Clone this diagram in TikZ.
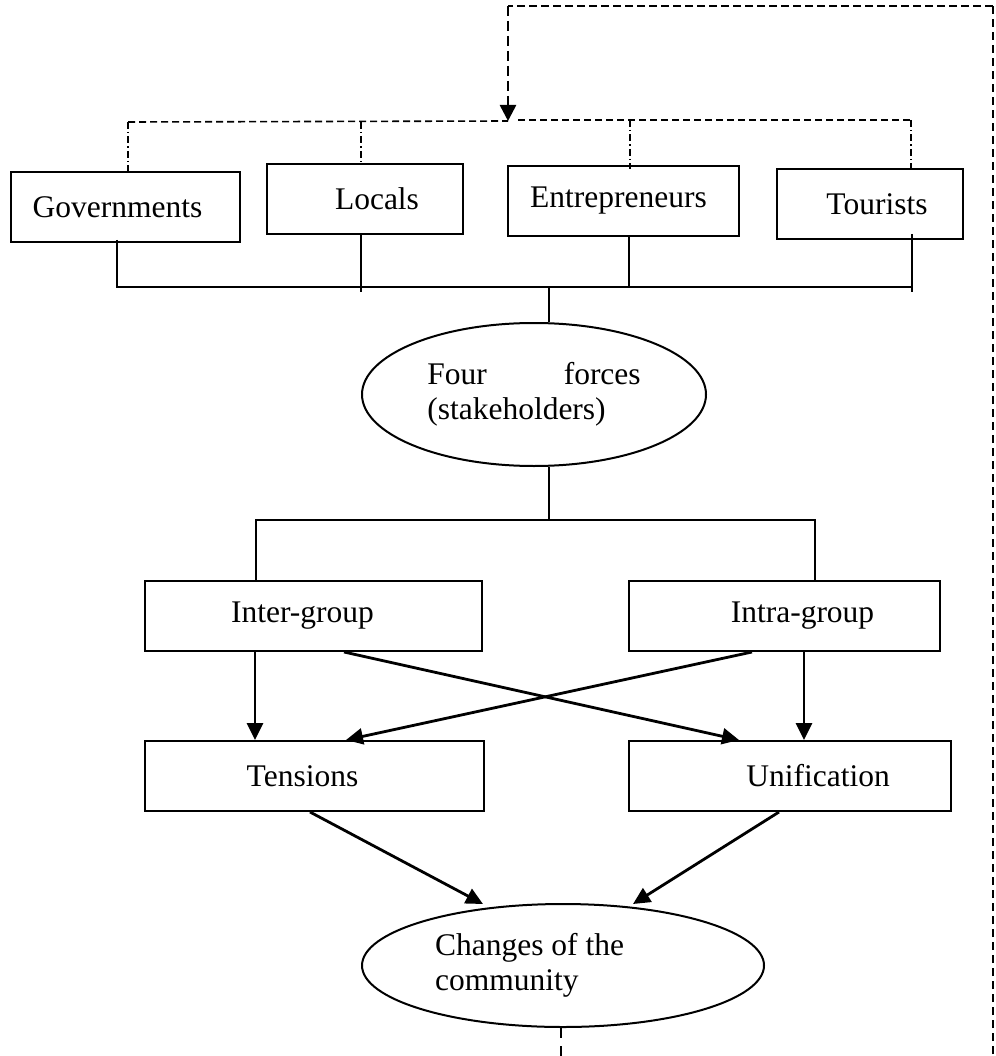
\documentclass[tikz,border=0pt]{standalone}
\usepackage{fontspec}
\setmainfont{Liberation Serif}
\usetikzlibrary{shapes.geometric,arrows.meta,calc}
\begin{document}
\begin{tikzpicture}[x=1pt,y=-1pt,
  txtfont/.style={font=\fontsize{31.5pt}{35pt}\selectfont},
  boxst/.style={draw,line width=2pt,rectangle,inner sep=0pt,minimum height=70pt,txtfont},
  ellst/.style={draw,line width=2pt,ellipse,inner sep=0pt,align=left,txtfont},
  conn/.style={line width=2pt},
  arr/.style={line width=2.8pt,-{Triangle[length=17pt,width=16pt]}},
  fbtop/.style={line width=2pt,dash pattern=on 8pt off 4pt},
  fbdown/.style={line width=2.6pt,dash pattern=on 10pt off 5pt},
  fbside/.style={line width=1.3pt,dash pattern=on 8pt off 5pt},
  fbbot/.style={line width=2pt,dash pattern=on 10pt off 8pt},
  hdash/.style={line width=1.6pt,dash pattern=on 7pt off 4pt},
  ddot/.style={line width=1.4pt,dash pattern=on 7pt off 3pt on 1.5pt off 3pt},
]
\clip (0,0) rectangle (995,1056);

% stakeholder boxes
\node[boxst,minimum width=229pt] (gov)  at (125.5,207) {Governments\hspace*{16pt}};
\node[boxst,minimum width=196pt] (loc)  at (365,199) {\hspace*{24pt}Locals};
\node[boxst,minimum width=231pt] (ent)  at (623.5,201) {Entrepreneurs\hspace*{10pt}};
\node[boxst,minimum width=186pt] (tour) at (870,204) {\hspace*{14pt}Tourists};

% ellipse four forces
\node[ellst,minimum width=344pt,minimum height=143pt] (ff) at (534,394.5)
  {Four\hspace{77pt}forces\\(stakeholders)};

% inter / intra
\node[boxst,minimum width=337pt] (inter) at (313.5,616) {Inter-group\hspace*{22pt}};
\node[boxst,minimum width=311pt] (intra) at (784.5,616) {\hspace*{36pt}Intra-group};

% tensions / unification
\node[boxst,minimum width=339pt] (tens) at (314.5,776) {Tensions\hspace*{24pt}};
\node[boxst,minimum width=322pt] (unif) at (790,776) {\hspace*{56pt}Unification};

% changes
\node[ellst,minimum width=402pt,minimum height=123pt] (chg) at (563,965.5)
  {Changes of the\hspace*{67pt}\\community};

% feedback loop (dashed)
\coordinate (fbT) at (508,121);
\coordinate (lowL) at (561,1080);
\coordinate (lowR) at (993,1080);
\coordinate (topR) at (993,6);
\coordinate (topL) at (508,6);
\draw[fbbot] (chg.south -| lowL) -- (lowL) -- (lowR);
\draw[fbside] (lowR) -- (topR);
\draw[fbtop] (topR) -- (topL);
\draw[fbdown,-{Triangle[length=16pt,width=16pt]}] (topL) -- (fbT);

% dash-dot distribution line
\coordinate (d1) at (128,122);
\coordinate (d2) at (361,122);
\coordinate (d3) at (630,120);
\coordinate (d4) at (911,120);
\draw[hdash] (d1) -- (fbT);
\draw[hdash] ($(fbT)+(10,-1)$) -- (d4);
\draw[ddot] (d1) -- (gov.north -| d1);
\draw[ddot] (d2) -- (loc.north -| d2);
\draw[ddot] (d3) -- ($(ent.north -| d3)+(0,4)$);
\draw[ddot] (d4) -- (tour.north -| d4);

% solid bus to four forces
\coordinate (b1) at (117,287);
\coordinate (b2) at (361,287);
\coordinate (b3) at (629,287);
\coordinate (b4) at (912,287);
\coordinate (bm) at (549,287);
\draw[conn] ($(gov.south -| b1)+(0,-3)$) -- (b1) -- (b4);
\draw[conn] (loc.south -| b2) -- ($(b2)+(0,5)$);
\draw[conn] (ent.south -| b3) -- (b3);
\draw[conn] ($(tour.south -| b4)+(0,-6)$) -- ($(b4)+(0,5)$);
\draw[conn] (bm) -- (bm |- ff.north);

% second bus
\coordinate (c0) at (549,520);
\coordinate (c1) at (256,520);
\coordinate (c2) at (815,520);
\draw[conn] (c0 |- ff.south) -- (c0);
\draw[conn] (inter.north -| c1) -- (c1) -- (c2) -- (intra.north -| c2);

% arrows between groups and outcomes
\draw[arr] ($(inter.south west)+(111,0)$) -- ($(tens.north west)+(111,0)$);
\draw[arr] ($(intra.south west)+(176,0)$) -- ($(unif.north west)+(176,0)$);
\draw[arr] ($(inter.south west)+(200,0)$) -- ($(unif.north west)+(111,0)$);
\draw[arr] ($(intra.south west)+(124,0)$) -- ($(tens.north west)+(202,0)$);

% arrows to changes
\draw[arr] ($(tens.south west)+(166,0)$) -- (483,904);
\draw[arr] ($(unif.south west)+(151,0)$) -- (633,904);
\end{tikzpicture}
\end{document}
